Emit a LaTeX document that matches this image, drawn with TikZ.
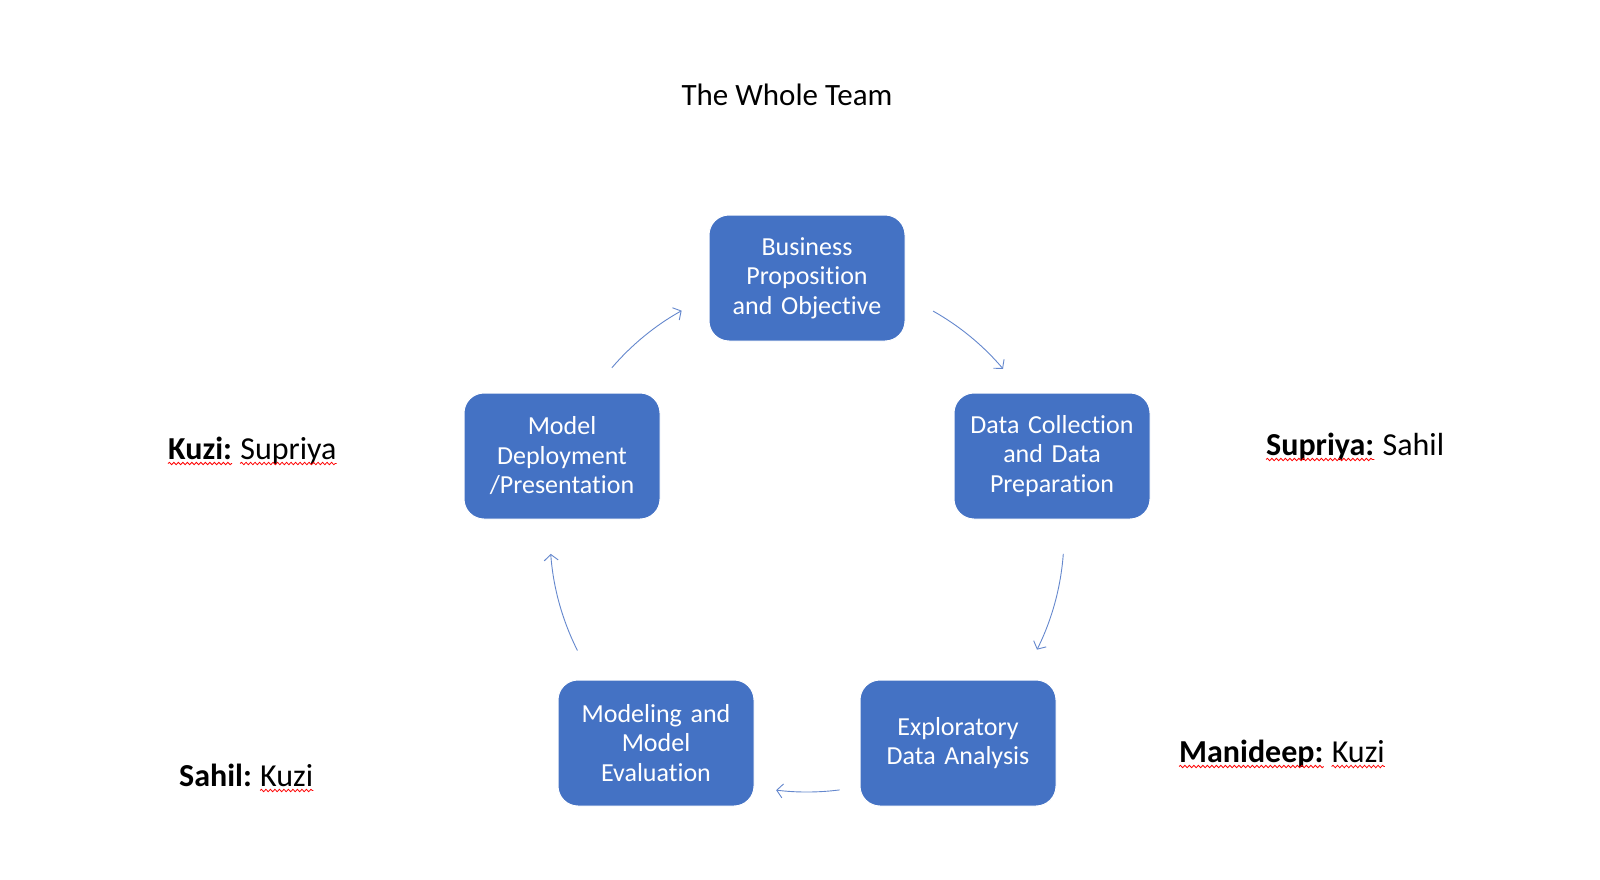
\documentclass[tikz,border=0pt]{standalone}
\usepackage{fontspec}
\setmainfont{Carlito}[Ligatures=NoCommon]
\usetikzlibrary{arrows.meta,decorations.pathmorphing}
\definecolor{boxblue}{RGB}{68,114,196}
\definecolor{arrblue}{RGB}{100,135,205}
\tikzset{
  stepbox/.style={draw=white, line width=1pt, fill=boxblue, rounded corners=20pt,
    minimum width=196pt, minimum height=126pt, text width=186pt, align=center,
    text=white, font=\fontsize{26}{29.5}\selectfont, inner sep=0pt},
  arr/.style={draw=arrblue, line width=0.9pt, -{Straight Barb[length=6pt,width=14pt]}},
  who/.style={anchor=base west, font=\fontsize{32}{36}\selectfont, inner sep=0pt},
  squig/.style={draw=red, line width=0.8pt, decorate,
    decoration={snake, amplitude=1.2pt, segment length=4.5pt}},
}
\newcommand\wavebelow[1]{\draw[squig] ([yshift=-4.5pt]#1.base west) -- ([yshift=-4.5pt]#1.base east);}
\begin{document}
\begin{tikzpicture}[x=1pt,y=1pt]
\useasboundingbox (0,0) rectangle (1600,-880);
\node[anchor=base, font=\fontsize{31}{36}\selectfont, inner sep=0pt] (title) at (787,-106) {The Whole Team};
\node[stepbox] (B) at (807,-278) {Business\\Proposition\\and Objective};
\node[stepbox] (D) at (1052,-456) {Data Collection\\and Data\\Preparation};
\node[stepbox] (E) at (958,-743) {Exploratory\\Data Analysis};
\node[stepbox] (M) at (656,-743) {Modeling and\\Model\\Evaluation};
\node[stepbox] (P) at (562,-456) {Model\\Deployment\\/Presentation};
\coordinate (C) at (807,-535);
\draw[arr] ([shift={(139.4:257)}]C) arc[start angle=139.4, end angle=119.2, radius=257];
\draw[arr] ([shift={(60.6:257)}]C) arc[start angle=60.6, end angle=40.3, radius=257];
\draw[arr] ([shift={(-4.2:257)}]C) arc[start angle=-4.2, end angle=-26.5, radius=257];
\draw[arr] ([shift={(-82.7:257)}]C) arc[start angle=-82.7, end angle=-96.9, radius=257];
\draw[arr] ([shift={(-153.3:257)}]C) arc[start angle=-153.3, end angle=-175.8, radius=257];
% labels
\node[who] (l1a) at (168,-459) {\textbf{Kuzi:}};
\node[who] (l1b) at ([xshift=8pt]l1a.base east) {Supriya};
\node[who] (l2a) at (1266,-455) {\textbf{Supriya:}};
\node[who] (l2b) at ([xshift=8pt]l2a.base east) {Sahil};
\node[who] (l3a) at (1179,-762) {\textbf{Manideep:}};
\node[who] (l3b) at ([xshift=8pt]l3a.base east) {Kuzi};
\node[who] (l4a) at (179,-786) {\textbf{Sahil:}};
\node[who] (l4b) at ([xshift=8pt]l4a.base east) {Kuzi};
\wavebelow{l1a}
\wavebelow{l1b}
\wavebelow{l2a}
\wavebelow{l3a}
\wavebelow{l3b}
\wavebelow{l4b}
\end{tikzpicture}
\end{document}
